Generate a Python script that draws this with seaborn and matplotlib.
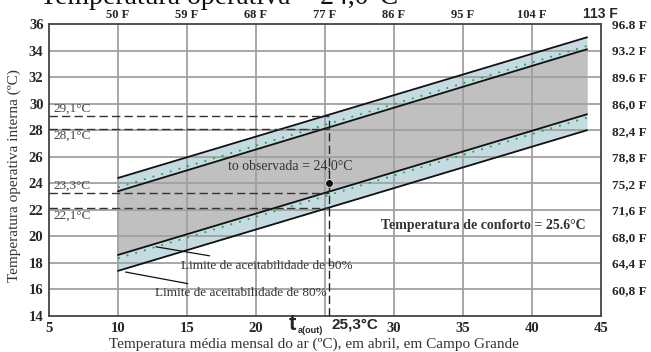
import numpy as np
import pandas as pd
import seaborn as sns
from matplotlib import pyplot as plt

# comfort band limit lines, read at x = 10 and x = 44
band_x = [10, 44]
upper_80 = [24.4, 35.0]
upper_90 = [23.4, 34.1]
lower_90 = [18.6, 29.2]
lower_80 = [17.4, 28.0]
green_upper = [23.7, 34.35]
green_lower = [18.35, 28.95]

# observed point and marked temperatures
t_out = 25.3
t_obs = 24.0
marked_temps = [29.1, 28.1, 23.3, 22.1]
marked_labels = ["29,1°C", "28,1°C", "23,3°C", "22,1°C"]

x_ticks = [5, 10, 15, 20, 25, 30, 35, 40, 45]
x_labels = ["5", "10", "15", "20", "", "30", "35", "40", "45"]
y_ticks = [14, 16, 18, 20, 22, 24, 26, 28, 30, 32, 34, 36]
top_ticks = [10, 15, 20, 25, 30, 35, 40, 45]
top_labels = ["50 F", "59 F", "68 F", "77 F", "86 F", "95 F", "104 F", "113 F"]
right_ticks = [16, 18, 20, 22, 24, 26, 28, 30, 32, 34, 36]
right_labels = ["60,8 F", "64,4 F", "68,0 F", "71,6 F", "75,2 F", "78,8 F",
                "82,4 F", "86,0 F", "89.6 F", "93.2 F", "96.8 F"]

sns.set_style("white")
plt.rcParams['font.family'] = ['Liberation Serif', 'DejaVu Serif']

fig = plt.figure(figsize=(6.51, 3.52), dpi=100)
ax = fig.add_axes([0.0753, 0.1023, 0.8477, 0.8295])

df = pd.DataFrame({"x": band_x, "u80": upper_80, "u90": upper_90,
                   "l90": lower_90, "l80": lower_80,
                   "gu": green_upper, "gl": green_lower})

# fills
ax.fill_between(df["x"], df["l80"], df["u80"], color="#c5dbe2", zorder=1, linewidth=0)
ax.fill_between(df["x"], df["l90"], df["u90"], color="#c0c0c0", zorder=1, linewidth=0)

# grid over fills
for xv in x_ticks[1:-1]:
    ax.axvline(xv, color="#a0a0a0", lw=1.3, zorder=2)
for yv in y_ticks[1:-1]:
    ax.axhline(yv, color="#a0a0a0", lw=1.3, zorder=2)

for col in ["u80", "u90", "l90", "l80"]:
    sns.lineplot(data=df, x="x", y=col, color="#111111", lw=1.3, ax=ax, zorder=4)
for col in ["gu", "gl"]:
    sns.lineplot(data=df, x="x", y=col, color="#1aa64a", lw=1.3, ls=(0, (1, 4)), ax=ax, zorder=3)

# dashed reference lines
for t in marked_temps:
    ax.plot([5, t_out], [t, t], color="#333333", lw=1.0, ls=(0, (6, 3)), zorder=5)
ax.plot([t_out, t_out], [14, marked_temps[0]], color="#222222", lw=1.0, ls=(0, (6, 3)), zorder=5)

ax.text(5.3, 29.15, marked_labels[0], fontsize=9.5, color="#444444", va="bottom")
ax.text(5.3, 28.0, marked_labels[1], fontsize=9.5, color="#444444", va="top")
ax.text(5.3, 23.35, marked_labels[2], fontsize=9.5, color="#444444", va="bottom")
ax.text(5.3, 22.0, marked_labels[3], fontsize=9.5, color="#444444", va="top")

sns.scatterplot(x=[t_out], y=[t_obs], color="#111111", s=30, ax=ax, zorder=6)
ax.text(17.95, 25.3, "to observada = 24,0°C", fontsize=10, color="#333333", va="center")
ax.text(29.05, 20.85, "Temperatura de conforto = 25.6°C", fontsize=10,
        fontweight="bold", color="#333333", va="center")

ax.annotate("Limite de aceitabilidade de 90%", xy=(12.55, 19.25), xytext=(14.6, 17.8),
            fontsize=9.5, color="#333333", va="center",
            arrowprops=dict(arrowstyle="-", color="#111111", lw=0.9))
ax.annotate("Limite de aceitabilidade de 80%", xy=(10.35, 17.35), xytext=(12.65, 15.7),
            fontsize=9.5, color="#333333", va="center",
            arrowprops=dict(arrowstyle="-", color="#111111", lw=0.9))

ax.set_xlim(5, 45)
ax.set_ylim(14, 36)
ax.set_xticks(x_ticks)
ax.set_xticklabels(x_labels, fontweight="bold", fontsize=10.5)
ax.set_yticks(y_ticks)
ax.set_yticklabels([str(v) for v in y_ticks], fontweight="bold", fontsize=10.5)
ax.tick_params(length=0, pad=4)
ax.set_xlabel("Temperatura média mensal do ar (ºC), em abril, em Campo Grande",
              fontsize=11, color="#333333", labelpad=1)
ax.xaxis.set_label_coords(0.48, -0.075)
ax.set_ylabel("Temperatura operativa interna (ºC)", fontsize=11, color="#333333")
ax.yaxis.set_label_coords(-0.05, 0.48)
for s in ax.spines.values():
    s.set_color("#444444")
    s.set_linewidth(1.3)

# t_a(out) label and value under the x axis
ax.text(22.35, 12.95, "t", fontsize=16, fontweight="bold", family="Liberation Sans",
        va="baseline", clip_on=False)
ax.text(23.05, 12.75, "a(out)", fontsize=6.5, fontweight="bold", family="Liberation Sans",
        va="baseline", clip_on=False)
ax.text(25.45, 13.05, "25,3°C", fontsize=11, fontweight="bold", family="Liberation Sans",
        va="baseline", clip_on=False)

# Fahrenheit axes
ax_top = ax.twiny()
ax_top.set_xlim(5, 45)
ax_top.set_xticks(top_ticks)
ax_top.set_xticklabels(top_labels, fontweight="bold", fontsize=9)
ax_top.tick_params(length=0, pad=2)
ax_top.get_xticklabels()[-1].set_family("Liberation Sans")
ax_top.get_xticklabels()[-1].set_fontsize(10)

ax_right = ax.twinx()
ax_right.set_ylim(14, 36)
ax_right.set_yticks(right_ticks)
ax_right.set_yticklabels(right_labels, fontweight="bold", fontsize=9.5)
ax_right.tick_params(length=0, pad=8)
for s in list(ax_top.spines.values()) + list(ax_right.spines.values()):
    s.set_visible(False)

fig.text(0.062, 1 - 4 / 352, "Temperatura operativa = 24,0°C", fontsize=20,
         va="baseline", color="#111111")

fig.savefig("out.png", dpi=100)
